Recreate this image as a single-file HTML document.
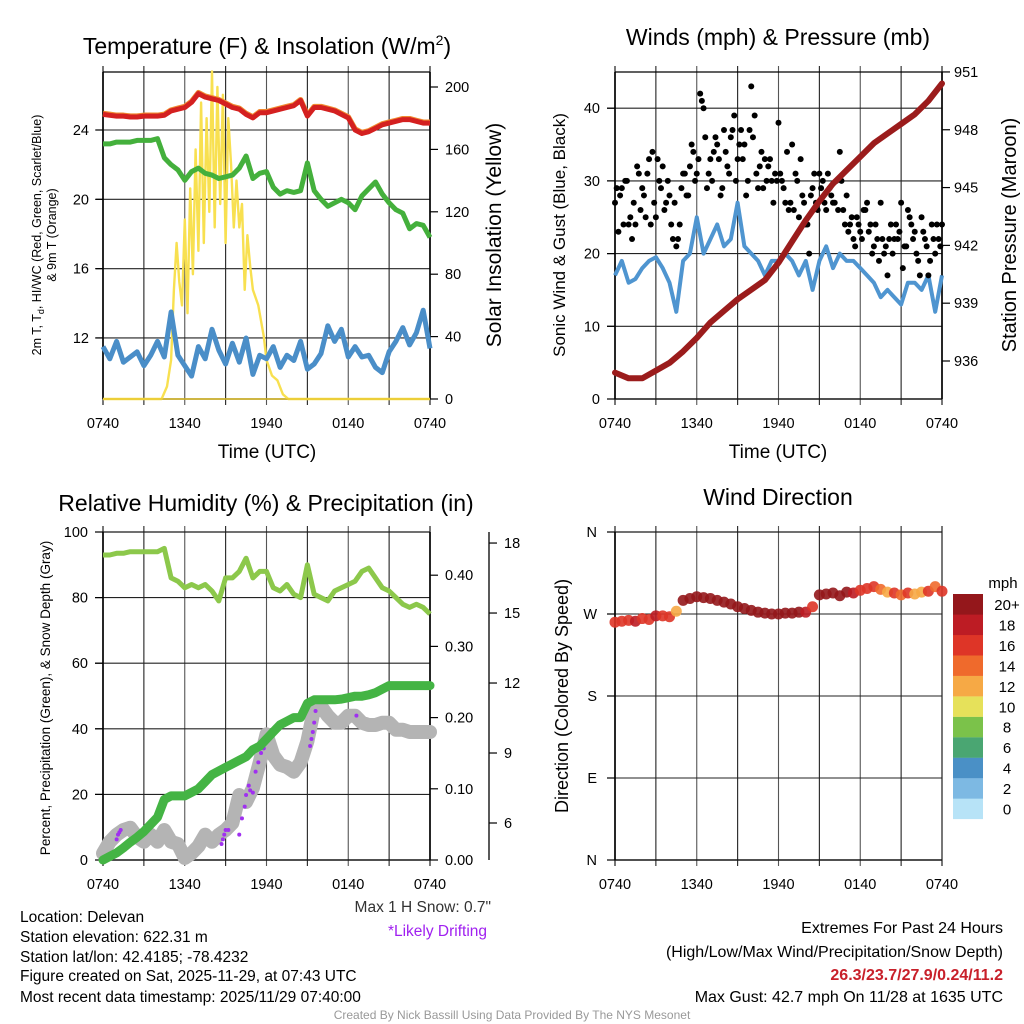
<!DOCTYPE html>
<html><head><meta charset="utf-8">
<style>
html,body{margin:0;padding:0;background:#fff;}
svg{display:block;font-family:"Liberation Sans",Arial,sans-serif;}
</style></head>
<body>
<svg id="fig" width="1024" height="1024" viewBox="0 0 1024 1024" xmlns="http://www.w3.org/2000/svg">
<rect width="1024" height="1024" fill="#fff"/>
<text x="267" y="54" font-size="23" text-anchor="middle">Temperature (F) &amp; Insolation (W/m<tspan dy="-9" font-size="14">2</tspan><tspan dy="9">)</tspan></text>
<text x="778" y="45" font-size="23" text-anchor="middle">Winds (mph) &amp; Pressure (mb)</text>
<text x="266" y="511" font-size="23" text-anchor="middle">Relative Humidity (%) &amp; Precipitation (in)</text>
<text x="778" y="505" font-size="23" text-anchor="middle">Wind Direction</text>
<text x="267" y="458" font-size="19" text-anchor="middle">Time (UTC)</text>
<text x="778" y="458" font-size="19" text-anchor="middle">Time (UTC)</text>
<text transform="translate(41,235) rotate(-90)" font-size="12.5" text-anchor="middle"><tspan x="0" dy="0">2m T, T<tspan font-size="9" dy="3">d</tspan><tspan dy="-3">, HI/WC (Red, Green, Scarlet/Blue)</tspan></tspan><tspan x="0" dy="15">&amp; 9m T (Orange)</tspan></text>
<text transform="translate(501,235) rotate(-90)" font-size="21" text-anchor="middle">Solar Insolation (Yellow)</text>
<text transform="translate(565,235) rotate(-90)" font-size="17" text-anchor="middle">Sonic Wind &amp; Gust (Blue, Black)</text>
<text transform="translate(1016,235) rotate(-90)" font-size="20" text-anchor="middle">Station Pressure (Maroon)</text>
<text transform="translate(50,698) rotate(-90)" font-size="13.5" text-anchor="middle">Percent, Precipitation (Green), &amp; Snow Depth (Gray)</text>
<text transform="translate(568,696) rotate(-90)" font-size="18" text-anchor="middle">Direction (Colored By Speed)</text>
<g font-size="15.5">
<text x="20" y="922">Location: Delevan</text>
<text x="20" y="942">Station elevation: 622.31 m</text>
<text x="20" y="962">Station lat/lon: 42.4185; -78.4232</text>
<text x="20" y="981">Figure created on Sat, 2025-11-29, at 07:43 UTC</text>
<text x="20" y="1002">Most recent data timestamp: 2025/11/29 07:40:00</text>
</g>
<text x="491" y="912" font-size="15.5" fill="#333" text-anchor="end">Max 1 H Snow: 0.7"</text>
<text x="487" y="936" font-size="15.5" fill="#a020f0" text-anchor="end">*Likely Drifting</text>
<g font-size="16" text-anchor="end">
<text x="1003" y="933">Extremes For Past 24 Hours</text>
<text x="1003" y="957">(High/Low/Max Wind/Precipitation/Snow Depth)</text>
<text x="1003" y="980" fill="#c8202a" font-weight="bold">26.3/23.7/27.9/0.24/11.2</text>
<text x="1003" y="1002">Max Gust: 42.7 mph On 11/28 at 1635 UTC</text>
</g>
<text x="512" y="1019" font-size="12" fill="#999" text-anchor="middle">Created By Nick Bassill Using Data Provided By The NYS Mesonet</text>
<text x="1003" y="588" font-size="15" text-anchor="middle">mph</text>
<g id="cbar"></g>
<g id="plots"></g>
</svg>
<script>
const timeTickLabels = ["0740","1340","1940","0140","0740"];
// Panel 1 (0.5 h steps)
const temp2m = [24.9,24.85,24.8,24.8,24.75,24.75,24.8,24.8,24.8,24.85,25.1,25.2,25.3,25.6,26.1,25.9,25.8,25.7,25.5,25.3,25.2,24.9,24.7,25.0,25.0,25.1,25.2,25.3,25.4,25.7,24.8,25.3,25.3,25.2,25.1,24.9,24.7,24.0,23.8,23.9,24.1,24.3,24.4,24.5,24.6,24.6,24.5,24.4,24.4];
const temp9m = [24.95,24.9,24.85,24.85,24.8,24.8,24.85,24.85,24.85,24.9,25.15,25.25,25.35,25.65,26.15,25.95,25.85,25.75,25.55,25.35,25.25,24.95,24.75,25.05,25.05,25.15,25.25,25.35,25.45,25.75,24.85,25.35,25.35,25.25,25.15,24.95,24.75,24.05,23.85,23.95,24.15,24.35,24.45,24.55,24.65,24.65,24.55,24.45,24.45];
const dewpoint = [23.2,23.2,23.3,23.3,23.3,23.4,23.4,23.4,23.5,22.4,22.0,21.7,21.1,21.6,21.8,21.5,21.4,21.2,21.3,21.4,21.8,22.5,21.2,21.5,21.6,20.7,20.3,20.5,20.4,20.5,22.1,20.5,20.0,19.6,19.8,20.0,19.8,19.4,20.2,20.6,21.0,20.3,19.8,19.4,19.2,18.3,18.6,18.5,17.8];
const heatIndex = [11.5,10.8,11.8,10.6,10.9,11.2,10.4,11.0,11.8,10.9,13.5,11.0,10.4,9.8,11.5,10.8,12.5,11.3,10.5,11.7,10.6,12.0,9.9,11.0,10.8,11.5,10.3,11.0,10.7,11.8,10.2,10.5,11.1,12.7,11.8,12.5,10.9,11.5,10.9,11.0,10.3,10.0,11.2,11.8,12.6,11.6,12.3,13.6,11.4];
const solHours = [0,4.3,4.7,5.0,5.2,5.4,5.6,5.8,6.0,6.2,6.4,6.6,6.8,7.0,7.2,7.4,7.6,7.8,8.0,8.2,8.4,8.6,8.8,9.0,9.2,9.4,9.6,9.8,10.0,10.2,10.4,10.6,10.8,11.0,11.4,11.8,12.0,12.4,12.8,13.2,13.6,24];
const solVals = [0,0,8,25,70,100,75,60,115,55,135,80,160,95,190,100,180,120,210,110,200,125,195,100,180,150,110,140,110,125,70,105,85,70,60,40,25,15,12,3,0,0];
const p1LeftTicks = [12,16,20,24];
const p1RightTicks = [0,40,80,120,160,200];
// Panel 2
const windSpeed = [17,19,16,16.5,18,19,19.5,18,16,12,19,20,25,20,22,24,21,22,27,21,20,19,17,19,19,20,19,17,19,15,19,21,18,20,19,19,18,17,16,14,15,14,13,16,16,15,17,12,17];
const windGust = [27,23,29,30,24,22,24,31,29,25,33,34,25,30,32,27,28,
22,21,24,31,28,32,34,31,42,40,29,33,34,35,28,37,
32,36,39,33,37,35,30,43,39,29,34,33,32,30,31,38,
30,27,26,35,31,25,28,24,20,29,27,31,30,26,29,27,
30,34,26,28,24,22,25,23,26,27,24,21,22,27,20,17,
24,22,22,27,21,26,24,23,19,25,22,17,24,20,22,24];
const windGustB = [29,28,24,30,25,27,32,26,28,31,24,27,33,29,26,30,
24,27,22,29,31,28,35,30,33,41,36,31,30,36,33,29,
34,31,37,30,35,33,28,37,36,31,32,29,30,33,27,30,
31,29,34,27,26,30,33,27,24,28,31,26,29,27,31,28,
27,26,30,24,23,25,21,24,22,26,23,20,24,19,22,21,
22,20,24,23,18,21,25,22,20,17,23,21,19,22,24,21];
const pressure = [935.4,935.1,935.1,935.5,935.9,936.5,937.2,938.0,938.6,939.2,939.7,940.2,941.1,942.2,943.3,944.3,945.2,945.9,946.6,947.3,947.8,948.3,948.8,949.5,950.4];
const p2LeftTicks = [0,10,20,30,40];
const p2RightTicks = [936,939,942,945,948,951];
// Panel 3
const relHumidity = [93,93,93.5,93.5,94,94,94,94,94,95,86,85,83,84,83,84,82,79,86,86,88,92,86,88,88,83,82,84,81,80,90,81,80,79,82,83,84,85,88,89,86,83,82,80,78,77,78,77,75];
const precip = [0,0.005,0.01,0.017,0.025,0.032,0.04,0.05,0.06,0.085,0.09,0.09,0.09,0.095,0.1,0.11,0.12,0.125,0.13,0.135,0.14,0.145,0.155,0.16,0.17,0.18,0.19,0.195,0.2,0.2,0.22,0.225,0.225,0.225,0.225,0.226,0.228,0.23,0.23,0.232,0.235,0.24,0.245,0.245,0.245,0.245,0.245,0.245,0.245];
const snowDepth = [4.7,5.2,5.5,5.7,5.8,5.4,5.2,5.5,5.2,5.7,5.2,5.1,4.5,4.7,5.0,5.5,5.2,5.5,5.7,6.0,7.2,6.9,7.5,8.6,9.8,8.9,8.5,8.4,8.2,8.6,9.5,10.9,11.0,10.6,10.3,10.3,10.6,10.6,10.3,10.2,10.2,10.3,10.3,10.0,10.0,9.9,9.9,9.9,9.9];
const driftHours = [1.0,1.1,1.2,1.3,8.7,8.8,8.9,9.0,9.2,10.0,10.2,10.4,10.5,10.7,10.8,11.0,11.2,11.4,11.6,11.8,12.0,12.2,15.2,15.3,15.4,15.5,15.6,18.6];
const driftDepth = [5.3,5.5,5.6,5.7,5.1,5.3,5.5,5.7,5.7,5.5,6.2,6.7,7.2,7.6,7.4,7.3,8.2,8.6,9.0,9.2,9.7,9.8,9.3,9.6,9.9,10.3,10.8,10.6];
const p3LeftTicks = [0,20,40,60,80,100];
const p3PrecipTicks = ["0.00","0.10","0.20","0.30","0.40"];
const p3SnowTicks = [6,9,12,15,18];
// Panel 4
const windDir = [261,262,263,262,265,264,268,268,267,273,285,287,289,288,287,285,283,281,278,276,274,272,271,270,270,271,271,272,272,278,291,292,293,290,294,293,296,298,300,297,294,293,291,293,292,294,295,300,295];
const dirSpeed = [17,16,17,18,16,17,18,17,16,13,20,21,22,21,22,21,20,21,22,21,20,21,22,21,20,22,21,20,19,17,20,21,22,21,20,18,17,16,17,15,13,16,14,17,12,13,16,14,17];
const dirTickLabels = ["N","E","S","W","N"];
const cbarLabels = ["0","2","4","6","8","10","12","14","16","18","20+"];
const cbarColors = ["#b7e3f7","#7db9e3","#4a90c6","#4aa672","#7bc24a","#e6e15a","#f6a945","#ef6a2c","#de3527","#bd1c24","#94171b"];

const NS="http://www.w3.org/2000/svg";
const root=document.getElementById('plots');
function mk(tag,attrs,parent){const e=document.createElementNS(NS,tag);for(const k in attrs)e.setAttribute(k,attrs[k]);(parent||root).appendChild(e);return e;}
function hrs(arr){return arr.map((v,i)=>i*24/(arr.length-1));}
function pathD(xs,ys){return xs.map((x,i)=>(i?'L':'M')+x.toFixed(1)+' '+ys[i].toFixed(1)).join(' ');}

function frame(P,name){
  const g=mk('g',{});
  
  
  for(let k=0;k<=8;k++){
    const x=P.x0+k*(P.x1-P.x0)/8;
    const l=mk('line',{x1:x,x2:x,y1:P.y0-6,y2:P.y1+6,stroke:(k%2?'#222':'#555'),'stroke-width':(k==0||k==8)?1.6:1.1},g);
    
    
  }
  timeTickLabels.forEach((t,k)=>{
    const x=P.x0+k*(P.x1-P.x0)/4;
    const tx=mk('text',{x:x,y:P.y1+29,'font-size':14.5,'text-anchor':'middle'},g);
    tx.textContent=t;
    
    
  });
  const b=mk('line',{x1:P.x0,x2:P.x1,y1:P.y1,y2:P.y1,stroke:'#000','stroke-width':1.5},g);
  
  
  const t=mk('line',{x1:P.x0,x2:P.x1,y1:P.y0,y2:P.y0,stroke:'#000','stroke-width':1.2},g);
  
  
  return g;
}
function hTicks(g,P,vals,fy,labels,side,name,grid){
  vals.forEach((v,i)=>{
    const y=fy(v);
    if(grid){const l=mk('line',{x1:P.x0-8,x2:P.x1,y1:y,y2:y,stroke:'#222','stroke-width':1.1},g);
      
      }
    const tk=mk('line',{x1:side.x,x2:side.x+side.d,y1:y,y2:y,stroke:'#000','stroke-width':1.2},g);
    
    
    const tx=mk('text',{x:side.tx,y:y+5,'font-size':14.5,'text-anchor':side.anchor},g);
    tx.textContent=labels?labels[i]:String(v);
    
    
  });
}
function vline(g,x,y0,y1,name,w){const l=mk('line',{x1:x,x2:x,y1:y0,y2:y1,stroke:'#000','stroke-width':w||1.5},g);
  
  }

// Panel 1
const P1={x0:103,x1:430,y0:72,y1:399};
const x1s=h=>P1.x0+h*(P1.x1-P1.x0)/24;
const y1L=v=>130-(v-24)*17.33;
const y1R=v=>399-v*1.56;
let g=frame(P1,'temperature');
hTicks(g,P1,p1LeftTicks,y1L,null,{x:P1.x0,d:-7,tx:P1.x0-14,anchor:'end'},'temperature-y',true);
hTicks(g,P1,p1RightTicks,y1R,null,{x:P1.x1,d:8,tx:P1.x1+15,anchor:'start'},'insolation-y',false);
vline(g,P1.x0,P1.y0,P1.y1,'temperature-left-axis');
vline(g,P1.x1,P1.y0,P1.y1,'insolation-right-axis');
let e;
e=mk('path',{d:pathD(solHours.map(x1s),solVals.map(y1R)),fill:'none',stroke:'#f8e050','stroke-width':2.4,'stroke-linejoin':'round'});


e=mk('path',{d:pathD(hrs(heatIndex).map(x1s),heatIndex.map(y1L)),fill:'none',stroke:'#4a8ec8','stroke-width':5,'stroke-linejoin':'round'});


e=mk('path',{d:pathD(hrs(dewpoint).map(x1s),dewpoint.map(y1L)),fill:'none',stroke:'#44b03c','stroke-width':5,'stroke-linejoin':'round'});


e=mk('path',{d:pathD(hrs(temp9m).map(x1s),temp9m.map(y1L)),fill:'none',stroke:'#f08a30','stroke-width':5.5,'stroke-linejoin':'round'});


e=mk('path',{d:pathD(hrs(temp2m).map(x1s),temp2m.map(y1L)),fill:'none',stroke:'#d42020','stroke-width':5,'stroke-linejoin':'round'});


e=mk('line',{x1:P1.x0,x2:P1.x1,y1:y1R(0),y2:y1R(0),stroke:'#e8c830','stroke-width':1.5});



// Panel 2
const P2={x0:615,x1:942,y0:72,y1:399};
const x2s=h=>P2.x0+h*(P2.x1-P2.x0)/24;
const y2L=v=>399-v*7.27;
const y2R=v=>361-(v-936)*19.27;
g=frame(P2,'winds');
hTicks(g,P2,p2LeftTicks,y2L,null,{x:P2.x0,d:-8,tx:P2.x0-15,anchor:'end'},'wind-y',true);
hTicks(g,P2,p2RightTicks,y2R,null,{x:P2.x1,d:8,tx:P2.x1+12,anchor:'start'},'pressure-y',false);
vline(g,P2.x0,P2.y0,P2.y1,'wind-left-axis');
vline(g,P2.x1,P2.y0,P2.y1,'pressure-right-axis');
e=mk('path',{d:pathD(hrs(windSpeed).map(x2s),windSpeed.map(y2L)),fill:'none',stroke:'#4f95d0','stroke-width':4,'stroke-linejoin':'round'});


const gh=hrs(windGust);
windGust.forEach((v,i)=>{
  const c=mk('circle',{cx:x2s(gh[i]),cy:y2L(v),r:3,fill:'#000'});
  
  
});
windGustB.forEach((v,i)=>{
  const h=0.125+i*24/windGustB.length;
  const c=mk('circle',{cx:x2s(h),cy:y2L(v),r:3,fill:'#000'});
  
  
});
e=mk('path',{d:pathD(hrs(pressure).map(x2s),pressure.map(y2R)),fill:'none',stroke:'#9b1c1c','stroke-width':6,'stroke-linejoin':'round','stroke-linecap':'round'});



// Panel 3
const P3={x0:103,x1:430,y0:532,y1:860};
const x3s=h=>P3.x0+h*(P3.x1-P3.x0)/24;
const y3L=v=>860-v*3.28;
const y3P=v=>860-v*712;
const y3S=v=>823-(v-6)*23.33;
g=frame(P3,'humidity');
hTicks(g,P3,p3LeftTicks,y3L,null,{x:P3.x0,d:-8,tx:P3.x0-15,anchor:'end'},'humidity-y',true);
hTicks(g,P3,p3PrecipTicks.map(Number),y3P,p3PrecipTicks,{x:P3.x1,d:8,tx:P3.x1+15,anchor:'start'},'precip-y',false);
hTicks(g,P3,p3SnowTicks,y3S,null,{x:489,d:8,tx:504,anchor:'start'},'snow-y',false);
vline(g,P3.x0,P3.y0,P3.y1,'humidity-left-axis');
vline(g,P3.x1,P3.y0,P3.y1,'precip-axis');
vline(g,489,P3.y0,P3.y1,'snow-axis',1.3);
e=mk('path',{d:pathD(hrs(snowDepth).map(x3s),snowDepth.map(y3S)),fill:'none',stroke:'#b4b4b4','stroke-width':14,'stroke-linejoin':'round','stroke-linecap':'round'});


driftHours.forEach((h,i)=>{
  const c=mk('circle',{cx:x3s(h),cy:y3S(driftDepth[i]),r:2,fill:'#a030f0'});
  
  
});
e=mk('path',{d:pathD(hrs(precip).map(x3s),precip.map(y3P)),fill:'none',stroke:'#44b444','stroke-width':9,'stroke-linejoin':'round','stroke-linecap':'round'});


e=mk('path',{d:pathD(hrs(relHumidity).map(x3s),relHumidity.map(y3L)),fill:'none',stroke:'#8cc84b','stroke-width':5,'stroke-linejoin':'round'});



// Panel 4
const P4={x0:615,x1:942,y0:532,y1:860};
const x4s=h=>P4.x0+h*(P4.x1-P4.x0)/24;
const y4D=v=>860-v*(328/360);
g=frame(P4,'direction');
hTicks(g,P4,[0,90,180,270,360],y4D,dirTickLabels,{x:P4.x0,d:-8,tx:P4.x0-18,anchor:'end'},'direction-y',true);
vline(g,P4.x0,P4.y0,P4.y1,'direction-left-axis');
function speedColor(s){let k=Math.min(10,Math.max(0,Math.floor(s/2)));return cbarColors[k];}
const dh=hrs(windDir);
windDir.forEach((v,i)=>{
  const c=mk('circle',{cx:x4s(dh[i]),cy:y4D(v),r:5.5,fill:speedColor(dirSpeed[i]),'fill-opacity':0.9});
  
  
});
const cb=document.getElementById('cbar');
cbarLabels.forEach((lab,i)=>{
  const y=594+(10-i)*20.45;
  const r=mk('rect',{x:953,y:y,width:30,height:20.6,fill:cbarColors[i]},cb);
  
  
  const t=mk('text',{x:1007,y:y+16,'font-size':15,'text-anchor':'middle'},cb);
  t.textContent=lab;
  
  
});
</script>
</body></html>
